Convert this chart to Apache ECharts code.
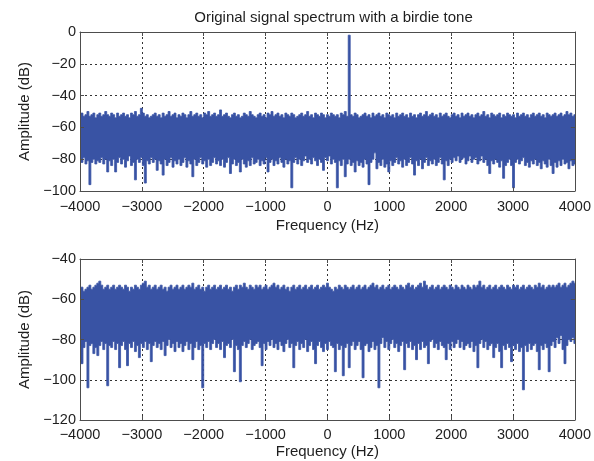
<!DOCTYPE html>
<html><head><meta charset="utf-8">
<script src="https://cdn.jsdelivr.net/npm/echarts@6/dist/echarts.min.js"></script>
<style>html,body{margin:0;padding:0;background:#fff}#c{width:594px;height:461px}</style>
</head><body><div id="c"></div>
<script>
// Frequency bins (Hz)
const freqStart = -4000, freqStep = 32;

// Top plot: upper and lower edge of the spectrum band (dB)
const topUpper = [
-52,-51,-53,-52,-50,-53,-52,-51,-54,-52,
-51,-53,-52,-50,-52,-53,-51,-52,-54,-51,
-53,-52,-51,-53,-52,-54,-51,-52,-50,-53,
-52,-48,-51,-53,-52,-54,-53,-52,-51,-53,
-52,-54,-51,-53,-52,-50,-53,-52,-51,-54,
-52,-53,-51,-52,-54,-52,-50,-53,-52,-51,
-53,-52,-54,-51,-52,-50,-53,-52,-51,-53,
-52,-49,-53,-52,-51,-53,-54,-52,-51,-53,
-52,-54,-53,-51,-52,-53,-50,-52,-53,-54,
-52,-51,-53,-52,-54,-51,-52,-50,-53,-52,
-51,-53,-52,-54,-51,-52,-53,-51,-52,-54,
-53,-52,-51,-53,-52,-50,-53,-52,-54,-51,
-52,-53,-51,-52,-54,-52,-53,-51,-52,-53,
-52,-54,-51,-52,-50,-53,-2,-52,-53,-51,
-52,-54,-53,-52,-51,-53,-52,-54,-51,-53,
-52,-51,-53,-52,-54,-51,-52,-53,-52,-54,
-51,-53,-52,-51,-53,-52,-54,-51,-53,-52,
-54,-52,-51,-53,-52,-50,-53,-52,-51,-53,
-52,-54,-51,-53,-52,-51,-53,-54,-52,-51,
-53,-52,-54,-51,-53,-52,-51,-53,-52,-54,
-52,-51,-53,-52,-50,-53,-52,-54,-51,-52,
-53,-52,-51,-54,-52,-53,-51,-52,-53,-52,
-54,-51,-53,-52,-51,-53,-52,-54,-52,-51,
-53,-52,-51,-53,-52,-54,-51,-52,-53,-52,
-51,-53,-52,-51,-53,-52,-50,-52,-51,-53,
-52];
const topLower = [
-80,-82,-79,-83,-81,-96,-82,-80,-83,-81,
-82,-79,-83,-80,-88,-81,-84,-80,-88,-82,
-79,-83,-80,-85,-81,-78,-84,-82,-93,-80,
-82,-79,-84,-95,-81,-83,-79,-82,-80,-87,
-81,-83,-90,-80,-84,-82,-79,-85,-81,-83,
-80,-84,-82,-79,-85,-81,-83,-91,-80,-84,
-82,-79,-83,-81,-85,-80,-84,-82,-79,-83,
-81,-84,-80,-85,-82,-79,-89,-83,-80,-84,
-82,-88,-80,-83,-85,-81,-84,-79,-83,-82,
-80,-84,-81,-83,-79,-88,-82,-80,-84,-81,
-83,-79,-82,-85,-80,-83,-81,-98,-82,-79,
-83,-80,-84,-81,-78,-82,-80,-83,-79,-81,
-84,-80,-82,-87,-79,-81,-78,-83,-80,-82,
-98,-81,-84,-80,-91,-83,-80,-84,-82,-88,
-81,-84,-82,-85,-80,-83,-96,-82,-80,-76,
-86,-82,-84,-80,-85,-83,-88,-81,-84,-82,
-79,-83,-81,-85,-80,-84,-82,-79,-83,-90,
-81,-84,-80,-86,-82,-79,-84,-81,-83,-80,
-84,-82,-79,-83,-93,-81,-84,-80,-82,-79,
-81,-78,-82,-80,-79,-83,-81,-78,-82,-80,
-79,-83,-81,-78,-82,-80,-84,-89,-81,-83,
-80,-82,-85,-81,-92,-84,-82,-80,-84,-98,
-82,-80,-83,-81,-79,-84,-82,-85,-81,-83,
-80,-84,-82,-86,-81,-83,-85,-80,-84,-89,
-82,-85,-81,-84,-80,-83,-82,-86,-81,-84,
-83];

// Bottom plot: upper and lower edge of the spectrum band (dB)
const botUpper = [
-55,-54,-56,-55,-54,-53,-55,-54,-53,-52,
-51,-53,-55,-54,-53,-55,-54,-53,-55,-54,
-53,-54,-55,-53,-54,-56,-54,-55,-53,-54,
-55,-53,-52,-51,-54,-53,-55,-54,-53,-55,
-54,-53,-55,-54,-56,-54,-53,-55,-54,-53,
-55,-54,-53,-55,-54,-53,-54,-52,-55,-54,
-53,-55,-54,-56,-54,-53,-55,-54,-53,-55,
-54,-53,-55,-54,-53,-55,-54,-56,-54,-53,
-55,-53,-54,-52,-54,-55,-53,-54,-55,-53,
-54,-53,-55,-54,-53,-55,-54,-53,-52,-54,
-53,-55,-54,-53,-55,-54,-56,-54,-53,-55,
-54,-53,-55,-54,-53,-55,-54,-53,-55,-54,
-53,-55,-54,-53,-54,-52,-54,-55,-56,-54,
-55,-53,-54,-55,-53,-54,-55,-54,-53,-55,
-54,-53,-55,-54,-53,-55,-54,-53,-52,-54,
-53,-55,-54,-53,-55,-54,-53,-55,-54,-53,
-54,-55,-53,-54,-55,-53,-52,-54,-53,-55,
-54,-53,-52,-54,-51,-53,-55,-54,-53,-55,
-54,-53,-55,-54,-53,-54,-55,-53,-54,-55,
-53,-54,-55,-53,-54,-55,-53,-54,-55,-53,
-54,-53,-51,-54,-53,-55,-54,-53,-55,-54,
-53,-55,-54,-53,-54,-55,-53,-54,-55,-53,
-54,-53,-55,-54,-53,-55,-54,-53,-54,-55,
-53,-54,-52,-54,-53,-55,-54,-53,-54,-53,
-54,-53,-52,-54,-53,-52,-54,-53,-52,-51,
-52];
const botLower = [
-82,-92,-84,-81,-104,-83,-82,-87,-84,-88,
-83,-81,-85,-82,-103,-83,-84,-81,-85,-82,
-94,-83,-81,-85,-93,-82,-84,-81,-86,-83,
-89,-82,-84,-81,-85,-82,-91,-83,-81,-84,
-82,-85,-81,-88,-83,-80,-84,-82,-86,-81,
-84,-82,-86,-83,-81,-85,-82,-90,-84,-81,
-85,-83,-104,-82,-84,-81,-85,-82,-80,-84,
-82,-85,-81,-89,-83,-82,-84,-80,-96,-83,
-85,-101,-83,-81,-84,-82,-80,-85,-83,-82,
-81,-84,-93,-82,-85,-81,-83,-80,-84,-82,
-85,-81,-83,-86,-82,-80,-84,-82,-94,-83,
-81,-85,-82,-84,-80,-86,-83,-81,-85,-92,
-83,-81,-84,-86,-82,-85,-81,-83,-84,-96,
-82,-85,-83,-98,-84,-82,-94,-83,-81,-85,
-83,-81,-85,-99,-83,-82,-86,-84,-81,-85,
-83,-104,-82,-79,-84,-81,-85,-82,-80,-84,
-82,-86,-83,-81,-95,-82,-84,-81,-85,-83,
-90,-82,-85,-81,-84,-83,-92,-81,-80,-84,
-82,-85,-81,-83,-84,-90,-82,-85,-81,-84,
-82,-80,-84,-81,-85,-83,-82,-84,-81,-86,
-83,-94,-82,-80,-84,-81,-85,-83,-82,-89,
-84,-82,-86,-94,-83,-85,-82,-84,-91,-83,
-85,-82,-86,-84,-105,-83,-86,-82,-85,-83,
-82,-86,-95,-83,-85,-82,-84,-96,-83,-81,
-84,-79,-82,-78,-85,-92,-83,-80,-81,-79,
-82];

// Axis scales / ticks
const xScale = {min: -4000, max: 4000, interval: 1000};
const topYScale = {min: -100, max: 0, interval: 20};
const botYScale = {min: -120, max: -40, interval: 20};
const titleText = 'Original signal spectrum with a birdie tone';
const xName = 'Frequency (Hz)';
const yName = 'Amplitude (dB)';

const FONT = '"Liberation Sans", Arial, Helvetica, sans-serif';
const AX = '#4d4d4d';
const TXT = '#1e1e1e';
const BLUE = '#3953a4';
const fmt = v => String(v).replace('-', '\u2212');

function xb(i){ return freqStart + i * freqStep; }
function rows(lo, up){ return lo.map((v, i) => [xb(i), v, up[i]]); }

function xAxes(gi, labelMargin, nameGap){
  const base = {type: 'value', gridIndex: gi, min: xScale.min, max: xScale.max, interval: xScale.interval};
  return [
    Object.assign({}, base, {position: 'bottom', z: 5,
      axisLine: {show: true, onZero: false, lineStyle: {color: AX, width: 1}},
      axisTick: {show: true, inside: true, length: 4, lineStyle: {color: AX}},
      axisLabel: {show: true, margin: labelMargin, fontSize: 14.5, color: TXT, fontFamily: FONT, formatter: fmt},
      splitLine: {show: false},
      name: xName, nameLocation: 'middle', nameGap: nameGap,
      nameTextStyle: {fontSize: 15, color: TXT, fontFamily: FONT}}),
    Object.assign({}, base, {position: 'top', z: 5,
      axisLine: {show: true, onZero: false, lineStyle: {color: AX, width: 1}},
      axisTick: {show: true, inside: true, length: 4, lineStyle: {color: AX}},
      axisLabel: {show: false}, splitLine: {show: false}}),
    Object.assign({}, base, {position: 'bottom', z: 0,
      axisLine: {show: false, onZero: false}, axisTick: {show: false}, axisLabel: {show: false},
      splitLine: {show: true, lineStyle: {color: '#333', width: 1, type: [2, 3]}}})
  ];
}
function yAxes(gi, sc){
  const base = {type: 'value', gridIndex: gi, min: sc.min, max: sc.max, interval: sc.interval};
  return [
    Object.assign({}, base, {position: 'left', z: 5,
      axisLine: {show: true, onZero: false, lineStyle: {color: AX, width: 1}},
      axisTick: {show: true, inside: true, length: 4, lineStyle: {color: AX}},
      axisLabel: {show: true, margin: 4, fontSize: 14.5, color: TXT, fontFamily: FONT, formatter: fmt},
      splitLine: {show: false},
      name: yName, nameLocation: 'middle', nameGap: 44,
      nameTextStyle: {fontSize: 15, color: TXT, fontFamily: FONT}}),
    Object.assign({}, base, {position: 'right', z: 5,
      axisLine: {show: true, onZero: false, lineStyle: {color: AX, width: 1}},
      axisTick: {show: true, inside: true, length: 4, lineStyle: {color: AX}},
      axisLabel: {show: false}, splitLine: {show: false}}),
    Object.assign({}, base, {position: 'left', z: 0,
      axisLine: {show: false, onZero: false}, axisTick: {show: false}, axisLabel: {show: false},
      splitLine: {show: true, lineStyle: {color: '#333', width: 1, type: [2, 3]}}})
  ];
}

// One seamless step-shaped polygon per band, every vertex placed through the axes (api.coord)
function makeRender(lo, up){
  return function(params, api){
    if (params.dataIndex !== 0) return null;
    const topPts = [], botPts = [];
    for (let i = 0; i < lo.length; i++){
      const f = xb(i), h = freqStep / 2;
      topPts.push(api.coord([f - h, up[i]]), api.coord([f + h, up[i]]));
      botPts.push(api.coord([f - h, lo[i]]), api.coord([f + h, lo[i]]));
    }
    return {
      type: 'polygon',
      shape: {points: topPts.concat(botPts.reverse())},
      style: {fill: BLUE, stroke: BLUE, lineWidth: 0.8, lineJoin: 'miter'}
    };
  };
}
function band(xi, yi, lo, up){
  return {type: 'custom', xAxisIndex: xi, yAxisIndex: yi, data: rows(lo, up),
    encode: {x: 0, y: [1, 2]}, renderItem: makeRender(lo, up), clip: true, silent: true, z: 2,
    progressive: 0};
}

const chart = echarts.init(document.getElementById('c'), null, {renderer: 'canvas'});
chart.setOption({
  animation: false,
  backgroundColor: '#fff',
  title: {text: titleText, left: 328.5, top: 5, textAlign: 'center',
    textStyle: {fontSize: 15, fontWeight: 'normal', color: TXT, fontFamily: FONT}},
  grid: [
    {left: 80, top: 32, width: 497, height: 159},
    {left: 80, top: 259, width: 497, height: 161}
  ],
  xAxis: xAxes(0, 8, 27).concat(xAxes(1, 7, 24)),
  yAxis: yAxes(0, topYScale).concat(yAxes(1, botYScale)),
  series: [band(0, 0, topLower, topUpper), band(3, 3, botLower, botUpper)]
});
</script>
</body></html>
